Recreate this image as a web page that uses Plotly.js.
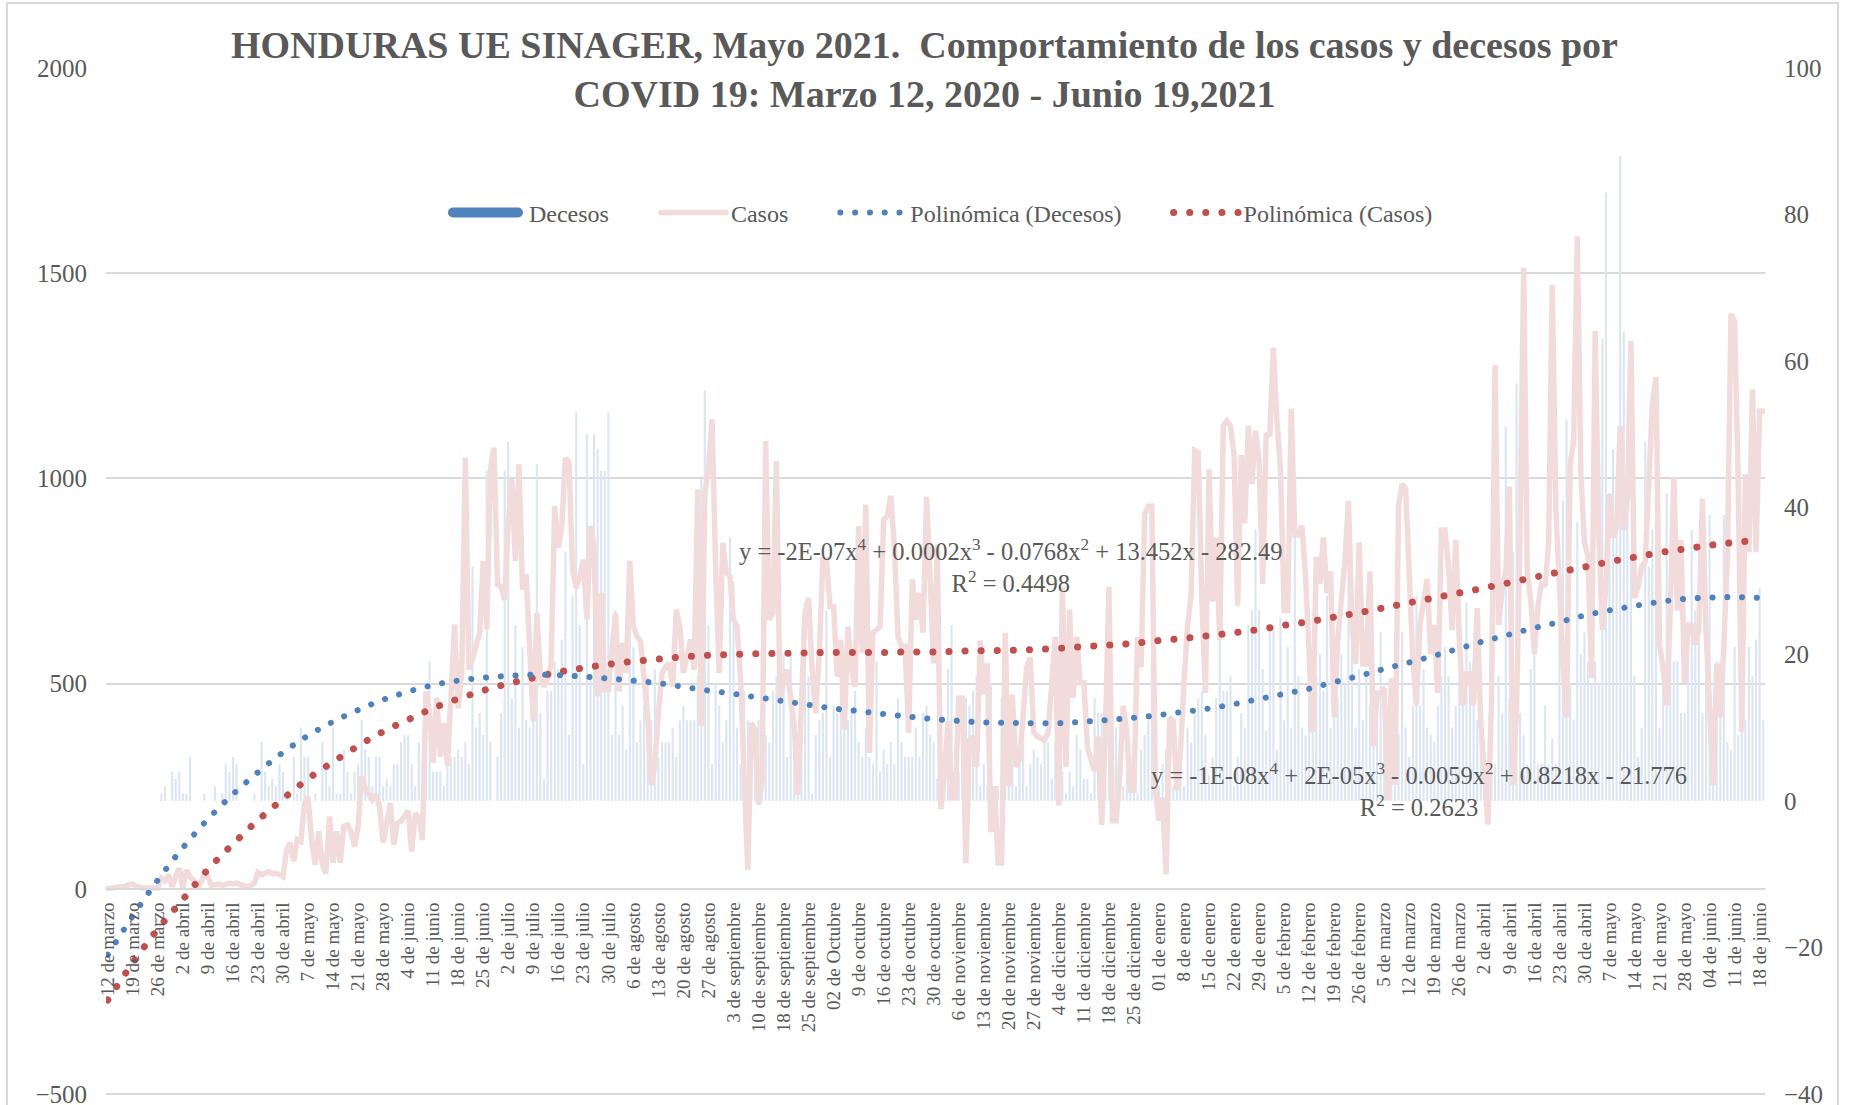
<!DOCTYPE html>
<html><head><meta charset="utf-8">
<script src="https://cdn.plot.ly/plotly-3.0.1.min.js"></script>
<style>
html,body{margin:0;padding:0;background:#fff;}
#chart{width:1849px;height:1105px;}
path.js-line{stroke-linecap:round;}
path.js-line[style*="stroke-width: 12px"]{stroke-linecap:butt !important;}
</style></head><body><div id="chart"></div>
<script>
const tickLabels = ["12 de marzo","19 de marzo","26 de marzo","2 de abril","9 de abril","16 de abril","23 de abril","30 de abril","7 de mayo","14 de mayo","21 de mayo","28 de mayo","4 de junio","11 de junio","18 de junio","25 de junio","2 de julio","9 de julio","16 de julio","23 de julio","30 de julio","6 de agosto","13 de agosto","20 de agosto","27 de agosto","3 de septiembre","10 de septiembre","18 de septiembre","25 de septiembre","02 de Octubre","9 de octubre","16 de octubre","23 de octubre","30 de octubre","6 de noviembre","13 de noviembre","20 de noviembre","27 de noviembre","4 de diciembre","11 de diciembre","18 de diciembre","25 de diciembre","01 de enero","8 de enero","15 de enero","22 de enero","29 de enero","5 de febrero","12 de febrero","19 de febrero","26 de febrero","5 de marzo","12 de marzo","19 de marzo","26 de marzo","2 de abril","9 de abril","16 de abril","23 de abril","30 de abril","7 de mayo","14 de mayo","21 de mayo","28 de mayo","04 de junio","11 de junio","18 de junio"];

const casos = [
1,2,3,2,4,6,10,12,6,3,2,2,3,3,2,
26,20,34,5,30,50,2,46,28,22,2,15,37,30,8,
10,12,8,10,14,12,14,10,8,5,8,14,
40,34,38,42,37,38,35,
30,95,112,67,120,115,208,225,119,59,140,59,37,176,63,140,63,152,156,140,103,150,274,245,233,217,230,
200,112,160,209,107,160,165,175,190,91,
184,175,119,481,428,307,465,322,404,300,
469,644,440,526,1050,534,560,591,624,799,
632,1022,1075,741,737,704,892,998,799,1034,
729,766,591,408,672,517,493,510,550,932,
831,884,1050,1038,778,733,762,802,656,884,
835,469,721,485,485,599,672,481,599,526,
799,639,615,603,500,420,253,300,
428,526,540,550,493,680,639,526,567,607,
534,973,396,965,1022,1144,786,526,843,770,
762,656,639,509,265,46,404,388,205,265,
1091,656,672,1042,461,509,534,461,396,229,
485,672,709,534,428,575,802,802,688,688,
517,607,388,639,534,493,884,575,936,331,
624,632,639,900,908,957,835,615,591,591,
380,754,656,721,624,
955,783,549,838,194,278,409,222,222,465,
465,63,362,371,297,605,474,549,138,250,
63,63,624,250,474,297,315,420,540,563,
381,371,365,362,381,511,614,203,736,297,
680,465,614,502,502,343,315,287,371,156,
371,736,166,166,268,446,381,240,240,614,
540,913,932,932,240,166,222,35,418,409,
240,334,502,642,717,1068,1063,700,
477,1022,700,856,607,1128,1140,1128,1057,690,
1057,891,1128,986,1116,1045,743,1110,1104,1318,
1140,1022,678,678,1170,862,862,885,761,584,
382,809,743,856,720,773,418,607,690,797,
945,643,548,844,548,548,773,347,477,477,
489,216,513,252,933,986,974,737,560,447,
643,700,755,572,643,477,874,874,785,631,
850,607,447,524,524,447,684,406,
300,157,453,1276,643,732,773,980,252,430,
880,1513,773,702,572,690,743,737,844,1472,
927,726,548,418,1034,1093,1590,1010,844,809,
513,1359,868,631,737,962,856,880,1128,874,
951,1335,708,737,785,797,998,1182,1247,595,
536,447,678,1004,678,850,501,643,643,595,
631,951,631,465,252,548,418,595,809,1401,
1383,998,382,1010,820,1217,820,1164,1164
];

const decesos = [
0,0,0,0,0,0,0,0,0,0,0,0,0,0,0,
1,2,0,4,3,4,1,1,6,0,0,0,1,0,0,
2,0,1,5,4,6,5,0,0,0,0,1,0,8,4,
2,3,2,5,4,1,0,6,1,10,6,6,0,1,0,
8,5,2,10,1,1,7,4,1,4,5,11,7,6,2,6,
6,2,3,2,5,5,8,9,9,5,
2,8,5,15,19,4,4,4,2,5,
6,6,7,6,8,5,32,10,12,9,
45,8,0,6,12,45,49,14,24,10,
21,11,10,15,46,12,3,15,15,19,
18,22,34,9,28,53,24,5,50,17,
50,48,45,45,53,9,26,9,13,7,
28,21,8,11,13,17,11,18,
6,8,8,8,10,6,11,13,11,11,
11,17,44,56,24,5,16,13,8,11,
36,30,10,5,15,11,9,7,11,5,
9,8,15,17,24,20,6,20,11,1,
10,27,17,1,9,11,12,26,6,13,
12,17,11,11,12,15,8,6,10,6,
5,19,4,7,5,8,5,14,8,6,
6,6,10,6,12,13,9,
8,3,2,6,18,24,4,4,4,14,
13,15,17,2,5,2,16,2,2,14,
13,8,5,2,6,8,2,5,7,6,
5,9,8,3,8,10,4,1,4,2,
9,7,3,3,1,14,12,12,2,9,
2,10,8,2,4,6,3,1,7,9,
11,19,9,2,5,7,4,2,5,6,
2,10,8,12,14,15,
9,3.5,6,14,23,15,15,17,2,6,
12,10,24,26,37,26,18,9.5,24,24,
7,25,11,21,10,37,17,10,9,24,
20,17,20,15,28,10,16,14,20,16,
32,23,10,18,11,17,13,18,13,23,
16,9,16,2,9,23,10,6,13,28,
13,18,10,9,8,13,17,21,17,10,
13,17,14,27,19,19,11,10,
5,3.5,5,5,17,12,51,14,34,57,
12,9,5,18,20,5,5,13,5,8.5,
5,27,41,52,16,11,38,20,23,19,
16,19,16,63,83,42,48,42,88,64,
39,33,17,6,10,49,32,37,42,10,
20,42,24,19,19,12,12,23,37,26,
23,12,24,39,6,19,19,39,8,7,
21,9,32,11,21,17,22,29,11
];

// Trend lines (at each weekly tick)
const trendCasos = [-271,-180,-98,-26,47,109,167,219,268,309,348,383,412,440,463,483,500,514,528,538,547,554,560,565,569,571,573,574,575,576,576,576,577,577,579,580,581,583,586,590,594,598,605,610,617,624,632,642,651,662,673,685,697,709,721,733,746,759,772,784,797,808,819,828,837,844,850];
const trendDecesos = [-21,-15.7,-10.8,-6.4,-2.5,0.9,3.9,6.6,8.9,10.8,12.4,13.8,14.9,15.8,16.4,16.8,17.05,17.2,17.15,16.95,16.7,16.4,16.05,15.55,15.05,14.6,14.1,13.6,13.1,12.6,12.25,11.85,11.5,11.15,10.9,10.7,10.65,10.6,10.6,10.8,11.05,11.35,11.7,12.15,12.6,13.2,13.9,14.6,15.3,16.2,17.05,18.0,18.9,19.8,20.8,21.8,22.7,23.6,24.4,25.3,26.0,26.6,27.15,27.55,27.75,27.8,27.7];

const titleLine1 = "HONDURAS UE SINAGER, Mayo 2021.\u00a0 Comportamiento de los casos y decesos por";
const titleLine2 = "COVID 19: Marzo 12, 2020 - Junio 19,2021";
const eqCasos = "y = -2E-07x<sup>4</sup> + 0.0002x<sup>3</sup> - 0.0768x<sup>2</sup> + 13.452x - 282.49<br>R<sup>2</sup> = 0.4498";
const eqDecesos = "y = -1E-08x<sup>4</sup> + 2E-05x<sup>3</sup> - 0.0059x<sup>2</sup> + 0.8218x - 21.776<br>R<sup>2</sup> = 0.2623";

const days = casos.map((_, i) => i);
const tickPos = tickLabels.map((_, k) => k * 7);

const FONT = "Liberation Serif";
const GREY = "#595959";
const PAD = "\u00a0\u00a0\u00a0\u00a0\u00a0\u00a0\u00a0";

const traces = [
  {type:'scatter', mode:'lines', x:[null], y:[null], name:'\u00a0Decesos'+PAD, yaxis:'y', legendrank:1,
   line:{color:'#4f81bd', width:12}, hoverinfo:'skip'},
  {type:'bar', x:days, y:decesos, name:'Decesos', yaxis:'y', showlegend:false,
   marker:{color:'#dce6f2'}},
  {type:'scatter', mode:'lines', x:days, y:casos, name:'Casos'+PAD, yaxis:'y2', legendrank:2,
   line:{color:'#f2dcdb', width:5.5}},
  {type:'scatter', mode:'lines', x:tickPos, y:trendCasos, name:'Polinómica (Casos)', yaxis:'y2', legendrank:4,
   line:{color:'#c0504d', width:7, dash:'0.1px,16px', shape:'spline'}},
  {type:'scatter', mode:'lines', x:tickPos, y:trendDecesos, name:'Polinómica (Decesos)'+PAD, yaxis:'y3', legendrank:3,
   line:{color:'#4f81bd', width:6, dash:'0.1px,14.7px', shape:'spline'}}
];

const layout = {
  width:1849, height:1105,
  margin:{l:106, r:84, t:68, b:11},
  paper_bgcolor:'#fff', plot_bgcolor:'rgba(0,0,0,0)',
  font:{family:FONT, color:GREY},
  barmode:'overlay', bargap:0.4,
  title:{text:'<b>'+titleLine1+'<br>'+titleLine2+'</b>', x:0.5, xref:'container', xanchor:'center',
         y:1-58/1105, yref:'container', yanchor:'top',
         font:{family:FONT, size:38, color:GREY}},
  showlegend:true,
  legend:{orientation:'h', x:0.5045, xanchor:'center', y:0.8587, yanchor:'middle',
          font:{family:FONT, size:24, color:GREY}, bgcolor:'rgba(0,0,0,0)', itemwidth:65},
  xaxis:{range:[-0.5,463.5], anchor:'free', position:0.2, showline:true, linecolor:'#d9d9d9', linewidth:2,
         tickmode:'array', tickvals:tickPos, ticktext:tickLabels, tickangle:-90, ticks:'',
         tickfont:{family:FONT, size:19, color:GREY}, showgrid:false, zeroline:false, ticklabelstandoff:5},
  yaxis:{range:[-40,100], side:'right', tickmode:'array', tickvals:[-40,-20,0,20,40,60,80,100],
         showgrid:false, zeroline:false, ticks:'', tickfont:{family:FONT, size:25, color:GREY},
         ticklabelstandoff:18, ticklabeloverflow:'allow'},
  yaxis2:{range:[-500,2000], overlaying:'y', side:'left', tickmode:'array', tickvals:[-500,0,500,1000,1500,2000],
          showgrid:true, gridcolor:'#d9d9d9', gridwidth:2, zeroline:false, ticks:'',
          tickfont:{family:FONT, size:25, color:GREY}, ticklabelstandoff:18, ticklabeloverflow:'allow'},
  yaxis3:{range:[-40,100], overlaying:'y', visible:false},
  annotations:[
    {text:eqCasos, xref:'paper', yref:'paper', x:0.5455, y:0.5146, xanchor:'center', yanchor:'middle',
     showarrow:false, font:{family:FONT, size:24.5, color:GREY}},
    {text:eqDecesos, xref:'paper', yref:'paper', x:0.7914, y:0.2963, xanchor:'center', yanchor:'middle',
     showarrow:false, font:{family:FONT, size:24.5, color:GREY}}
  ],
  shapes:[
    {type:'rect', xref:'paper', yref:'paper', x0:-0.0597, x1:1.0440, y0:-0.02, y1:1.0634,
     line:{color:'#d9d9d9', width:2}, fillcolor:'rgba(0,0,0,0)', layer:'below'},
    {type:'line', xref:'paper', yref:'paper', x0:0, x1:1, y0:0, y1:0,
     line:{color:'#d9d9d9', width:2}, layer:'below'}
  ]
};

Plotly.newPlot('chart', traces, layout, {displayModeBar:false, responsive:false});
</script></body></html>
